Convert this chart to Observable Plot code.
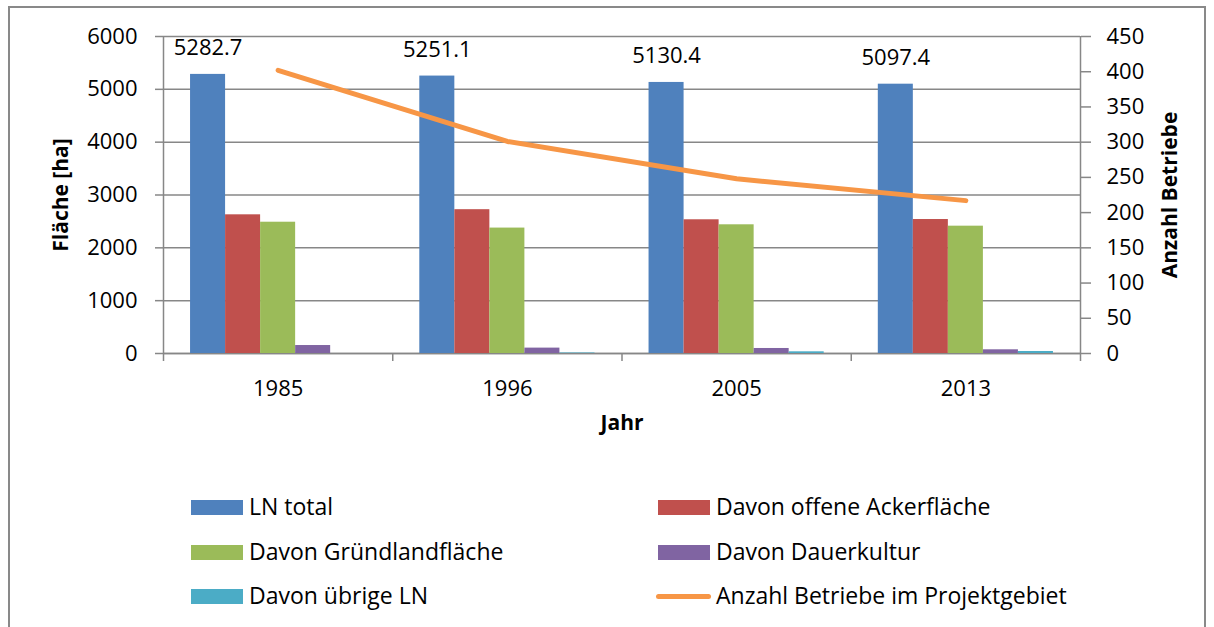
<!DOCTYPE html>
<html><head><meta charset="utf-8">
<script src="https://cdn.jsdelivr.net/npm/d3@7"></script>
<script src="https://cdn.jsdelivr.net/npm/@observablehq/plot@0.6"></script>
<style>
body{margin:0;background:#fff;font-family:"Open Sans",sans-serif;}
#wrap{position:relative;width:1214px;height:627px;overflow:hidden;background:#fff;}
#frame{position:absolute;left:8px;top:6px;width:1198px;height:700px;border:2px solid #898989;box-sizing:border-box;}
.layer{position:absolute;left:0;top:0;}
.leg{position:absolute;font-size:23px;line-height:23px;color:#000;white-space:nowrap;}
.sw{position:absolute;}
</style></head><body>
<div id="wrap"><div id="frame"></div></div>
<script>
// ---- data ----
const years = ["1985", "1996", "2005", "2013"];
const seriesNames = ["LN total", "Davon offene Ackerfläche", "Davon Gründlandfläche", "Davon Dauerkultur", "Davon übrige LN"];
const lnTotal = [5282.7, 5251.1, 5130.4, 5097.4];
const offeneAckerflaeche = [2625, 2722, 2531, 2536];
const gruendlandflaeche = [2485, 2374, 2436, 2410];
const dauerkultur = [151, 102, 95, 70];
const uebrigeLN = [0, 10, 32, 38];
const lineName = "Anzahl Betriebe im Projektgebiet";
const anzahlBetriebe = [402, 301, 248, 217];
const leftTicks = [0, 1000, 2000, 3000, 4000, 5000, 6000];
const rightTicks = [0, 50, 100, 150, 200, 250, 300, 350, 400, 450];
const seriesColors = ["#4F81BD", "#C0504D", "#9BBB59", "#8064A2", "#4BACC6"];
const lineColor = "#F79646";

// ---- layout ----
const W = 1214, H = 440;
const common = {width: W, height: H, marginTop: 36, marginLeft: 163, marginRight: 134, marginBottom: 87};
const gray = "#878787";
const font = "'Open Sans', sans-serif";
const baseStyle = {fontFamily: font, fontSize: "22px", color: "#000", background: "transparent", overflow: "visible"};
const xDomain = [-0.5, years.length - 0.5];
const idx = d3.range(years.length);
const seriesValues = [lnTotal, offeneAckerflaeche, gruendlandflaeche, dauerkultur, uebrigeLN];
const barData = years.flatMap((yr, i) => seriesNames.map((s, j) => ({year: yr, series: s, value: seriesValues[j][i]})));
const totalData = years.map((yr, i) => ({year: yr, series: seriesNames[0], value: lnTotal[i]}));
const wrap = document.getElementById("wrap");
function addLayer(el) { const d = document.createElement("div"); d.className = "layer"; d.appendChild(el); wrap.appendChild(d); }

// base layer: grid, axes, titles
addLayer(Plot.plot({
  ...common,
  style: baseStyle,
  x: {type: "linear", domain: xDomain},
  y: {domain: [0, 6000]},
  marks: [
    Plot.gridY(leftTicks, {stroke: gray, strokeOpacity: 1, strokeWidth: 1.5}),
    Plot.axisY(leftTicks, {anchor: "left", tickSize: 8, tickPadding: 18, stroke: gray, strokeWidth: 1.5, fill: "#000", tickFormat: d => String(d), label: null}),
    Plot.ruleX(xDomain, {stroke: gray, strokeWidth: 1.5}),
    Plot.ruleY([0], {stroke: gray, strokeWidth: 1.5}),
    Plot.axisX(d3.range(-0.5, years.length, 1), {tickSize: 8, tickFormat: () => "", stroke: gray, strokeWidth: 1.5, label: null}),
    Plot.axisX(idx, {tickSize: 0, tickPadding: 27, tickFormat: i => years[i], fill: "#000", label: null}),
    Plot.text(["Fläche [ha]"], {text: d => d, frameAnchor: "left", textAnchor: "middle", dx: -102, rotate: -90, fontWeight: "bold", fontSize: 21, fill: "#000"}),
    Plot.text(["Anzahl Betriebe"], {text: d => d, frameAnchor: "right", textAnchor: "middle", dx: 90, rotate: -90, fontWeight: "bold", fontSize: 21, fill: "#000"}),
    Plot.text(["Jahr"], {text: d => d, frameAnchor: "bottom", dy: 76, fontWeight: "bold", fontSize: 21, fill: "#000"})
  ]
}));

// bars layer
addLayer(Plot.plot({
  ...common,
  style: baseStyle,
  fx: {domain: years, paddingInner: 0.236, paddingOuter: 0.118, round: false, axis: null, label: null},
  x: {domain: seriesNames, padding: 0, round: false, axis: null},
  y: {domain: [0, 6000], axis: null},
  color: {domain: seriesNames, range: seriesColors},
  marks: [
    Plot.barY(barData, {fx: "year", x: "series", y: "value", fill: "series"}),
    Plot.text(totalData, {fx: "year", x: "series", y: "value", text: d => d.value.toFixed(1), dy: -26, fill: "#000"})
  ]
}));

// line layer with right axis
addLayer(Plot.plot({
  ...common,
  style: baseStyle,
  x: {type: "linear", domain: xDomain, axis: null},
  y: {domain: [0, 450]},
  marks: [
    Plot.axisY(rightTicks, {anchor: "right", tickSize: 10, tickPadding: 16, stroke: gray, strokeWidth: 1.5, fill: "#000", tickFormat: d => String(d), label: null}),
    Plot.lineY(anzahlBetriebe, {x: (d, i) => i, y: d => d, stroke: lineColor, strokeWidth: 5, strokeLinecap: "round", strokeLinejoin: "round"})
  ]
}));

// legend
const legendItems = seriesNames.map((s, j) => ({label: s, color: seriesColors[j], type: "rect"}))
  .concat([{label: lineName, color: lineColor, type: "line"}]);
const colX = [191, 658], rowY = [507, 552, 596];
legendItems.forEach((it, k) => {
  const col = k % 2, row = Math.floor(k / 2);
  const x0 = colX[col], cy = rowY[row];
  const sw = document.createElement("div");
  sw.className = "sw";
  if (it.type === "rect") {
    Object.assign(sw.style, {left: x0 + "px", top: (cy - 7.5) + "px", width: "52px", height: "15px", background: it.color});
  } else {
    Object.assign(sw.style, {left: (x0 - 2) + "px", top: (cy - 2.5) + "px", width: "55px", height: "5px", background: it.color, borderRadius: "3px"});
  }
  wrap.appendChild(sw);
  const t = document.createElement("div");
  t.className = "leg";
  t.textContent = it.label;
  Object.assign(t.style, {left: (x0 + 58) + "px", top: (cy - 12) + "px"});
  wrap.appendChild(t);
});
</script>
</body></html>
